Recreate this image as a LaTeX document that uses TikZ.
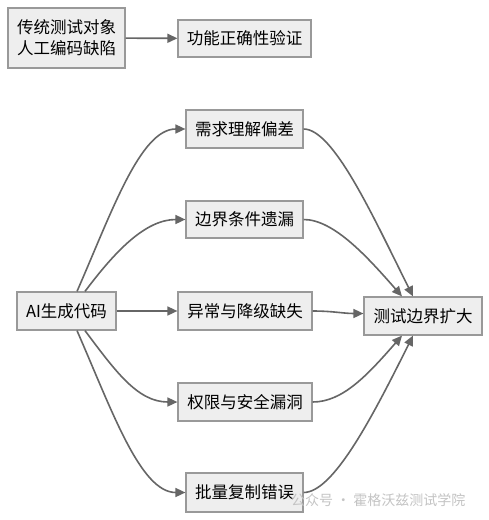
\documentclass[tikz,border=0pt]{standalone}
\usepackage{fontspec}
\setmainfont{Noto Sans CJK SC}
\usetikzlibrary{arrows.meta}
\definecolor{boxfill}{HTML}{EEEEEE}
\definecolor{boxline}{HTML}{999999}
\definecolor{edgecol}{HTML}{666666}
\definecolor{wmcol}{HTML}{C4C4C4}
\begin{document}
\begin{tikzpicture}[x=1pt,y=-1pt,
  box/.style={draw=boxline,line width=1.2pt,fill=boxfill,inner sep=0pt,align=center,
    font=\fontsize{16.5}{21}\selectfont,text=black},
  edge/.style={draw=edgecol,line width=1.6pt,-{Triangle[length=10pt,width=9pt]}}]
\fill[white] (0,0) rectangle (489,520);
\useasboundingbox (0,0) rectangle (489,520);
\node[box,minimum width=117pt,minimum height=60pt] (box1) at (66.5,38) {传统测试对象\\人工编码缺陷};
\node[box,minimum width=133pt,minimum height=37pt] (box2) at (244.5,38.5) {功能正确性验证};
\node[box,minimum width=117pt,minimum height=38pt] (req) at (244.5,129) {需求理解偏差};
\node[box,minimum width=117pt,minimum height=37pt] (bnd) at (244.5,219.5) {边界条件遗漏};
\node[box,minimum width=99pt,minimum height=38pt] (ai) at (66.5,311) {AI生成代码};
\node[box,minimum width=134pt,minimum height=38pt] (exc) at (245,311) {异常与降级缺失};
\node[box,minimum width=118pt,minimum height=38pt] (tst) at (423,316) {测试边界扩大};
\node[box,minimum width=134pt,minimum height=38pt] (perm) at (245,402) {权限与安全漏洞};
\node[box,minimum width=117pt,minimum height=39pt] (batch) at (244.5,492.5) {批量复制错误};

\draw[edge] (box1) -- (box2);
% from AI
\draw[edge] ([xshift=10.5pt]ai.north) .. controls +(35,-80) and +(-45,0) .. (req.west);
\draw[edge] ([xshift=18.5pt]ai.north) .. controls +(30,-40) and +(-40,0) .. (bnd.west);
\draw[edge] (ai.east) -- (exc.west);
\draw[edge] ([xshift=18.5pt]ai.south) .. controls +(30,40) and +(-40,0) .. (perm.west);
\draw[edge] ([xshift=10.5pt]ai.south) .. controls +(35,80) and +(-45,0) .. (batch.west);
% to test
\draw[edge] (req.east) .. controls +(30,0) and +(-40,-80) .. ([xshift=-10pt]tst.north);
\draw[edge] (bnd.east) .. controls +(30,0) and +(-35,-40) .. ([xshift=-21pt]tst.north);
\draw[edge] (exc.east) .. controls +(20,0) and +(-20,0) .. ([yshift=2.5pt]tst.west);
\draw[edge] (perm.east) .. controls +(30,0) and +(-35,40) .. ([xshift=-21pt]tst.south);
\draw[edge] (batch.east) .. controls +(30,0) and +(-40,80) .. ([xshift=-10pt]tst.south);

\node[text=wmcol,font=\fontsize{14}{16}\selectfont,anchor=west,inner sep=0pt] (wm) at (291,500) {公众号 · 霍格沃兹测试学院};
\end{tikzpicture}
\end{document}
